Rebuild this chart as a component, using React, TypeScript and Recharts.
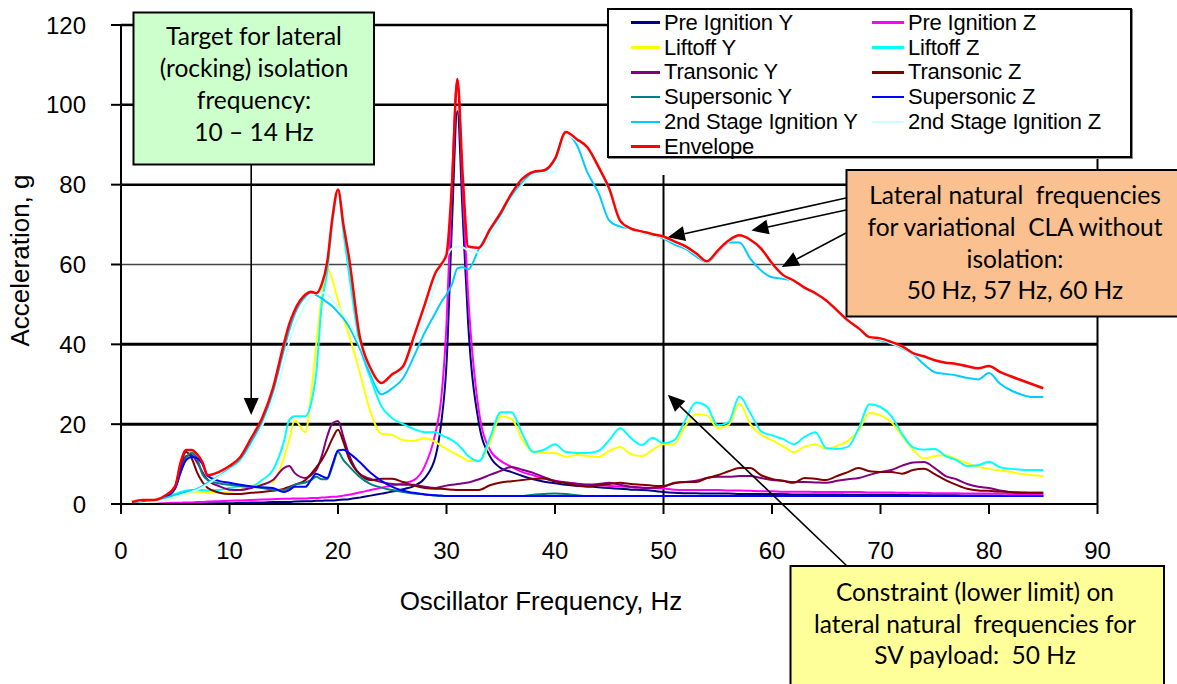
import React from 'react';
import { LineChart, Line, XAxis, YAxis, ReferenceLine } from 'recharts';

const WIDTH = 1177;
const HEIGHT = 684;
const PLOT = { left: 121, right: 1097.5, top: 25, bottom: 504 };
const X_AXIS_HEIGHT = 120;
const ARIAL = '"Liberation Sans", Arial, sans-serif';
const BOX_FONT = 'Lato, "Open Sans", sans-serif';

// oscillator frequency, Hz
const FREQ = [
  1, 2, 3, 4, 5, 5.5, 6, 6.5, 7, 7.5,
  8, 9, 10, 11, 12, 13, 14, 15, 15.5, 16,
  17, 17.5, 18, 18.5, 19, 19.5, 20, 20.5, 21, 22,
  23, 24, 25, 26, 27, 28, 29, 29.5, 30, 30.5,
  31, 31.5, 32, 33, 34, 35, 36, 37, 38, 39,
  40, 41, 42, 43, 44, 45, 46, 47, 48, 49,
  50, 51, 52, 53, 54, 55, 56, 57, 58, 59,
  60, 61, 62, 63, 64, 65, 66, 67, 68, 69,
  70, 71, 72, 73, 74, 75, 76, 77, 78, 79,
  80, 81, 82, 83, 84, 85,
];

// acceleration, g
const PRE_IGNITION_Y = [
  0, 0, 0, 0, 0.1, 0.1, 0.1, 0.1, 0.1, 0.1,
  0.2, 0.2, 0.2, 0.3, 0.4, 0.4, 0.5, 0.5, 0.5, 0.6,
  0.7, 0.7, 0.8, 0.8, 0.9, 0.9, 1, 1.1, 1.2, 1.6,
  2.1, 2.6, 3.1, 3.7, 4.5, 6.5, 12, 20, 35, 70,
  98.4, 72, 45, 20, 12, 9, 8, 7, 6.2, 5.6,
  5.2, 4.8, 4.6, 4.4, 4.2, 4, 3.8, 3.6, 3.5, 3.3,
  3, 2.8, 2.7, 2.7, 2.6, 2.6, 2.6, 2.5, 2.5, 2.5,
  2.5, 2.5, 2.4, 2.4, 2.4, 2.4, 2.4, 2.3, 2.3, 2.3,
  2.3, 2.3, 2.3, 2.2, 2.2, 2.2, 2.2, 2.2, 2.1, 2.1,
  2.1, 2.1, 2, 2, 2, 2,
];
const PRE_IGNITION_Z = [
  0, 0, 0.1, 0.2, 0.3, 0.3, 0.4, 0.4, 0.5, 0.5,
  0.6, 0.7, 0.8, 0.9, 1, 1.1, 1.2, 1.3, 1.3, 1.4,
  1.4, 1.5, 1.5, 1.6, 1.7, 1.8, 1.9, 2.1, 2.3, 2.9,
  3.5, 4.1, 4.6, 5.2, 6, 9.5, 18, 26, 45, 80,
  106.3, 78, 52, 23, 13.6, 10.8, 9.3, 8, 7.2, 6.4,
  5.8, 5.4, 5.1, 4.9, 4.7, 4.5, 4.4, 4.2, 4.1, 4,
  3.9, 3.6, 3.5, 3.5, 3.5, 3.5, 3.4, 3.4, 3.3, 3.2,
  3.2, 3.1, 3.1, 3.1, 3, 3, 3, 3, 3, 2.9,
  2.9, 2.9, 2.8, 2.8, 2.8, 2.7, 2.7, 2.7, 2.6, 2.6,
  2.6, 2.6, 2.5, 2.5, 2.5, 2.5,
];
const LIFTOFF_Y = [
  0, 0.2, 0.5, 1, 1.8, 2.2, 2.5, 2.8, 3, 3,
  2.8, 2.8, 3, 3.5, 4.5, 5, 5.5, 11.5, 16, 21,
  18, 27, 40, 52, 59, 56, 51, 46.5, 42.5, 33,
  23, 17.6, 17.3, 16, 15.8, 16.5, 15.5, 14.6, 13.8, 13,
  12.3, 11.6, 10.8, 10.8, 15.5, 22, 21.3, 16, 13, 12.8,
  12.8, 11.8, 12.3, 12, 11.8, 13.3, 14.3, 12.5, 12, 13.6,
  15, 15, 19.5, 22.5, 22.2, 19, 19.8, 25.2, 20, 17.3,
  16, 14.5, 13, 14.3, 15, 13.8, 14.6, 15.8, 18.5, 22.8,
  22.2, 20.5, 17, 13.6, 11.4, 12, 12.2, 11.2, 10.2, 9.3,
  8.8, 8.4, 8, 7.5, 7.2, 7,
];
const LIFTOFF_Z = [
  0, 0.2, 0.8, 1.5, 2.5, 3, 3.4, 3.5, 3.5, 3.5,
  3.4, 3.5, 4, 4.4, 4.4, 6, 8.5, 15.5, 21, 22,
  22, 25, 33, 50, 58, 71, 78.5, 68, 58, 40,
  31.5, 24.5, 21.5, 20, 18.8, 18, 18, 17.3, 16.7, 16,
  15, 13.6, 12, 10.8, 16.5, 23, 23, 17.5, 13, 13.6,
  15, 13, 12.8, 12.8, 13.3, 16, 19, 16.5, 14.8, 16.6,
  15.2, 16, 21, 25.4, 24.4, 19.7, 20.5, 26.9, 22.8, 18.2,
  17.2, 16.3, 15, 16.8, 18, 14, 13.8, 14.3, 19, 25,
  24.3, 22, 17.5, 14.2, 13.6, 13.8, 12, 11, 9.5, 9.7,
  10.6, 9.2, 8.8, 8.6, 8.5, 8.5,
];
const TRANSONIC_Y = [
  0, 0.3, 0.8, 1.5, 4, 9, 12, 12.3, 10.5, 8,
  6, 4.5, 3.6, 3.5, 4, 4.8, 6, 9, 9.5, 7.8,
  6.5, 7.2, 8.5, 12, 16.9, 20.2, 20.8, 16.8, 12.5, 7.5,
  6.3, 5.5, 5, 4.8, 4.8, 4.3, 4, 4.3, 4.6, 4.8,
  5, 5.2, 5.4, 6.2, 7.3, 8.3, 9.3, 8.6, 7.8, 6.7,
  5.8, 5.4, 5.1, 4.8, 5, 5.3, 4.8, 4.3, 4.1, 4,
  4.3, 5.3, 5.5, 5.8, 6.5, 6.8, 6.8, 7, 7, 6.5,
  6, 5.8, 5.5, 5.5, 5.4, 5.3, 5.8, 6.2, 6.5, 7.3,
  8, 8.5, 9.6, 10.4, 10.5, 9, 7, 6.2, 5, 4.3,
  4, 3.4, 3, 2.9, 2.8, 2.8,
];
const TRANSONIC_Z = [
  0, 0.3, 0.8, 1.5, 4.5, 10, 13, 11.5, 8, 5.5,
  4, 2.9, 2.5, 2.5, 2.8, 3, 3.3, 3.8, 4.3, 4.8,
  6, 7.5, 9.2, 11, 13.5, 16.5, 18.6, 15.5, 11.5, 7.5,
  6, 6.3, 6.3, 5.5, 4.6, 4, 3.8, 3.8, 3.7, 3.6,
  3.5, 3.5, 3.5, 3.5, 4.7, 5.4, 5.7, 6, 6.3, 6.4,
  5.6, 5.2, 4.6, 4.4, 4.7, 5, 5.3, 5, 4.8, 4.6,
  4.5, 5.2, 5.5, 5.5, 6.5, 7.2, 8.2, 9, 9, 7.2,
  6.3, 5.8, 5.3, 6.5, 6.3, 6, 7, 8, 9, 8.2,
  8, 8, 7.6, 8.5, 8.8, 7.5, 6, 4.8, 3.8, 3.4,
  3.3, 3.1, 3, 2.8, 2.8, 2.8,
];
const SUPERSONIC_Y = [
  0, 0.3, 0.8, 1.5, 4, 8, 11.5, 12.8, 11.5, 7.5,
  6, 5.2, 4.8, 4.5, 4.3, 4, 3.6, 3.5, 4, 4.8,
  5.4, 6, 6.8, 6.2, 6.2, 9.5, 13, 11, 9.5, 6.8,
  5, 4.1, 3.5, 3, 2.6, 2.4, 2.1, 2, 2, 2,
  2, 2, 2, 2, 2, 2, 2, 2, 2.3, 2.5,
  2.6, 2.5, 2.2, 2, 2, 2, 2, 2, 2, 2,
  2, 2, 2, 2, 2, 2, 2, 2, 2, 2,
  2, 2, 2, 2, 2, 2, 2, 2, 2, 2,
  2, 2, 2, 2, 2, 2, 2, 2, 2, 2,
  2, 2, 2, 2, 2, 2,
];
const SUPERSONIC_Z = [
  0, 0.3, 0.8, 1.5, 4, 8, 11, 11.8, 11.5, 10,
  7, 5.8, 5.3, 4.8, 4.4, 4.2, 4, 3, 3.5, 4.3,
  4.3, 6, 7.6, 7, 6.5, 10, 13.4, 13.6, 12.8, 10.5,
  7.8, 5.8, 4.3, 3.3, 2.8, 2.4, 2.2, 2.1, 2, 2,
  2, 2, 2, 2, 2, 2, 2, 2, 2, 2,
  2, 2, 2, 2, 2, 2, 2, 2, 2, 2,
  2, 2, 2, 2, 2, 2, 2, 2, 2, 2,
  2, 2, 2, 2, 2, 2, 2, 2, 2, 2,
  2, 2, 2, 2, 2, 2, 2, 2, 2, 2,
  2, 2, 2, 2, 2, 2,
];
const STAGE2_Y = [
  0, 0.3, 0.8, 1.5, 2.2, 2.6, 3, 3.3, 3.8, 4.5,
  5.3, 7, 8.8, 11, 15.5, 20.5, 28, 38.5, 43.5, 47.5,
  52, 53, 52.3, 51.5, 50.5, 49.5, 48, 46.5, 44.5, 39,
  32.5, 27.5, 29, 31.5, 37, 43, 48, 50.5, 52.5, 55,
  59, 59.3, 58.8, 64, 68.5, 72.5, 77, 80.5, 83, 83.3,
  86.3, 92.6, 90, 83, 78, 71, 69.5, 69, 68, 67.3,
  66.5, 65, 64, 62, 60.5, 63, 65.5, 65.5, 61.5, 58.5,
  56.8, 56.4, 55.8, 54, 52.6, 50.8, 48.3, 45.8, 43.8, 41.6,
  41, 40.2, 39, 37.5, 35, 33, 32.6, 32.2, 31.6, 31.2,
  32.8, 30.2, 28.5, 27.4, 26.8, 26.8,
];
const STAGE2_Z = [
  0, 0.2, 0.5, 1, 1.8, 2.2, 2.6, 3, 3.5, 4.2,
  5, 6.8, 8.5, 10.5, 14.5, 19.5, 26, 35, 40.5, 44.5,
  50, 52, 52.8, 53, 52.5, 51, 49.5, 47.5, 45.5, 40,
  33.5, 28.5, 30.5, 33.5, 40, 47, 55, 59, 62, 64,
  64.5, 64.3, 63.5, 63, 67, 71.5, 76.5, 80, 82.5, 83,
  83.3, 92.5, 91, 88.5, 84, 78.5, 70.7, 68.7, 68, 67.3,
  66.7, 65.5, 64.3, 62.5, 60.5, 63.2, 65.7, 67, 65.9, 63.7,
  60, 57.1, 55.7, 53.9, 52.5, 50.7, 48.2, 45.7, 43.7, 41.5,
  41.2, 40.3, 39.2, 37.5, 36.7, 35.7, 35.1, 34.8, 34.2, 33.7,
  34.3, 32.8, 31.7, 30.7, 29.7, 28.7,
];
const ENVELOPE = [
  0.5, 1, 1, 2, 4.5, 10.5, 13.5, 13.5, 12.5, 10.5,
  7.2, 8, 9.5, 11.8, 16.5, 21.5, 29, 40, 45, 48.5,
  52.5, 53.2, 52.8, 55, 60.5, 72, 78.8, 70, 62, 42,
  34, 30.3, 32.5, 34.5, 42, 50, 58, 60, 62.5, 80,
  106.5, 82, 64.5, 64.2, 68.8, 73, 77.8, 81.5, 83.2, 83.6,
  86.5, 93.2, 91.4, 89.3, 84.5, 79, 71, 69, 68.3, 67.6,
  67, 65.8, 64.6, 62.8, 60.8, 63.5, 66, 67.3, 66.2, 64,
  60.3, 57.4, 56, 54.2, 52.8, 51, 48.5, 46, 44, 41.8,
  41.5, 40.6, 39.5, 37.8, 37, 36, 35.4, 35.1, 34.5, 34,
  34.6, 33.1, 32, 31, 30, 29,
];

const FREQ_TICKS = [0, 10, 20, 30, 40, 50, 60, 70, 80, 90];
const ACCEL_TICKS = [0, 20, 40, 60, 80, 100, 120];

const SERIES = [
  { key: 'preY', name: 'Pre Ignition Y', color: '#000080', values: PRE_IGNITION_Y },
  { key: 'preZ', name: 'Pre Ignition Z', color: '#FF00FF', values: PRE_IGNITION_Z },
  { key: 'liftY', name: 'Liftoff Y', color: '#FFFF00', values: LIFTOFF_Y },
  { key: 'liftZ', name: 'Liftoff Z', color: '#00FFFF', values: LIFTOFF_Z },
  { key: 'tranY', name: 'Transonic Y', color: '#800080', values: TRANSONIC_Y },
  { key: 'tranZ', name: 'Transonic Z', color: '#800000', values: TRANSONIC_Z },
  { key: 'supY', name: 'Supersonic Y', color: '#008080', values: SUPERSONIC_Y },
  { key: 'supZ', name: 'Supersonic Z', color: '#0000FF', values: SUPERSONIC_Z },
  { key: 'st2Y', name: '2nd Stage Ignition Y', color: '#00CCFF', values: STAGE2_Y },
  { key: 'st2Z', name: '2nd Stage Ignition Z', color: '#CCFFFF', values: STAGE2_Z },
  { key: 'env', name: 'Envelope', color: '#FF0000', values: ENVELOPE },
];

const rows = FREQ.map((f, i) => {
  const row: Record<string, number> = { f };
  SERIES.forEach((s) => {
    row[s.key] = s.values[i];
  });
  return row;
});

// gridline weights as drawn in the original
const GRID_STYLE: Record<number, { stroke: string; width: number }> = {
  20: { stroke: '#000', width: 3 },
  40: { stroke: '#000', width: 3 },
  60: { stroke: '#444', width: 1.5 },
  80: { stroke: '#000', width: 2.5 },
  100: { stroke: '#000', width: 2.5 },
  120: { stroke: '#000', width: 2.5 },
};

const toX = (f: number) => PLOT.left + (f / 90) * (PLOT.right - PLOT.left);
const toY = (g: number) => PLOT.bottom - (g / 120) * (PLOT.bottom - PLOT.top);

function Arrow({ x1, y1, x2, y2 }: { x1: number; y1: number; x2: number; y2: number }) {
  const len = Math.hypot(x2 - x1, y2 - y1);
  const ux = (x2 - x1) / len;
  const uy = (y2 - y1) / len;
  const head = 17;
  const half = 7.5;
  const bx = x2 - ux * head;
  const by = y2 - uy * head;
  return (
    <g>
      <line x1={x1} y1={y1} x2={bx} y2={by} stroke="#000" strokeWidth={1.6} />
      <polygon
        points={`${x2},${y2} ${bx - uy * half},${by + ux * half} ${bx + uy * half},${by - ux * half}`}
        fill="#000"
      />
    </g>
  );
}

function NoteBox({
  x, y, w, h, fill, cx, baseline, gap, lines,
}: {
  x: number; y: number; w: number; h: number; fill: string;
  cx: number; baseline: number; gap: number; lines: string[];
}) {
  return (
    <g>
      <rect x={x} y={y} width={w} height={h} fill={fill} stroke="#000" strokeWidth={2} />
      {lines.map((t, i) => (
        <text
          key={i}
          x={cx}
          y={baseline + i * gap}
          textAnchor="middle"
          fontFamily={BOX_FONT}
          fontSize={24.5}
          fill="#000"
          style={{ whiteSpace: 'pre' }}
        >
          {t}
        </text>
      ))}
    </g>
  );
}

function Annotations() {
  const claTips = [
    { f: 50.4, g: 66.8, sy: 198 },
    { f: 58.1, g: 68.5, sy: 210 },
    { f: 60.9, g: 59.4, sy: 233 },
  ];
  return (
    <svg
      width={WIDTH}
      height={HEIGHT}
      style={{ position: 'absolute', left: 0, top: 0, pointerEvents: 'none' }}
    >
      <NoteBox
        x={133.5} y={12.5} w={240.5} h={152} fill="#CCFFCC"
        cx={254} baseline={45} gap={32}
        lines={['Target for lateral', '(rocking) isolation', 'frequency:', '10 \u2013 14 Hz']}
      />
      <Arrow x1={toX(12)} y1={164.5} x2={toX(12)} y2={toY(22.3)} />

      <NoteBox
        x={846.5} y={170} w={340} h={146.5} fill="#FAC090"
        cx={1015} baseline={204} gap={31.8}
        lines={['Lateral natural  frequencies', 'for variational  CLA without', 'isolation:', '50 Hz, 57 Hz, 60 Hz']}
      />
      {claTips.map((t, i) => (
        <Arrow key={i} x1={846} y1={t.sy} x2={toX(t.f)} y2={toY(t.g)} />
      ))}

      <NoteBox
        x={790.5} y={566} w={373.5} h={130} fill="#FFFF99"
        cx={975} baseline={601} gap={31.7}
        lines={['Constraint (lower limit) on', 'lateral natural  frequencies for', 'SV payload:  50 Hz']}
      />
      <Arrow x1={847} y1={566} x2={toX(50.4)} y2={toY(27.4)} />
    </svg>
  );
}

function LegendBox() {
  return (
    <div
      style={{
        position: 'absolute',
        left: 607,
        top: 8,
        width: 525,
        height: 150,
        boxSizing: 'border-box',
        border: '2px solid #000',
        boxShadow: '1px 1px 0 #888',
        background: '#fff',
      }}
    >
      {SERIES.map((s, i) => {
        const col = i % 2;
        const row = Math.floor(i / 2);
        return (
          <div
            key={s.key}
            style={{
              position: 'absolute',
              left: col === 0 ? 22 : 263,
              top: 0.7 + row * 24.8,
              height: 24,
              display: 'flex',
              alignItems: 'center',
              whiteSpace: 'nowrap',
              fontFamily: ARIAL,
              fontSize: 22,
              letterSpacing: -0.2,
              color: '#000',
            }}
          >
            <span
              style={{
                display: 'inline-block',
                width: col === 0 ? 29 : 32,
                height: 2.5,
                background: s.color,
                marginRight: 4,
              }}
            />
            {s.name}
          </div>
        );
      })}
    </div>
  );
}

export default function App() {
  return (
    <div
      style={{
        position: 'absolute',
        left: 0,
        top: 0,
        width: WIDTH,
        height: HEIGHT,
        background: '#fff',
        overflow: 'hidden',
      }}
    >
      <LineChart
        width={WIDTH}
        height={HEIGHT}
        data={rows}
        margin={{
          top: PLOT.top,
          right: WIDTH - PLOT.right,
          left: 0,
          bottom: HEIGHT - PLOT.bottom - X_AXIS_HEIGHT,
        }}
      >
        <XAxis
          dataKey="f"
          type="number"
          domain={[0, 90]}
          ticks={FREQ_TICKS}
          height={X_AXIS_HEIGHT}
          tickSize={10}
          tickMargin={28}
          axisLine={{ stroke: '#000', strokeWidth: 2 }}
          tickLine={{ stroke: '#000', strokeWidth: 2 }}
          tick={{ fill: '#000', fontSize: 24, fontFamily: ARIAL }}
          label={{
            content: () => (
              <text
                x={PLOT.left + 420}
                y={PLOT.bottom + 106}
                textAnchor="middle"
                fontFamily={ARIAL}
                fontSize={26}
                fill="#000"
              >
                Oscillator Frequency, Hz
              </text>
            ),
          }}
        />
        <YAxis
          type="number"
          domain={[0, 120]}
          ticks={ACCEL_TICKS}
          width={PLOT.left}
          tickSize={10}
          tickMargin={25}
          axisLine={{ stroke: '#000', strokeWidth: 2 }}
          tickLine={{ stroke: '#000', strokeWidth: 2 }}
          tick={{ fill: '#000', fontSize: 24, fontFamily: ARIAL }}
          label={{
            content: () => {
              const cy = (PLOT.top + PLOT.bottom) / 2 - 4;
              return (
                <text
                  x={29}
                  y={cy}
                  transform={`rotate(-90, 29, ${cy})`}
                  textAnchor="middle"
                  fontFamily={ARIAL}
                  fontSize={26}
                  fill="#000"
                >
                  Acceleration, g
                </text>
              );
            },
          }}
        />
        {ACCEL_TICKS.filter((v) => v > 0).map((v) => (
          <ReferenceLine
            key={v}
            y={v}
            stroke={GRID_STYLE[v].stroke}
            strokeWidth={GRID_STYLE[v].width}
          />
        ))}
        <ReferenceLine x={90} stroke="#000" strokeWidth={2} />
        <ReferenceLine
          segment={[{ x: 50, y: 82.4 }, { x: 50, y: 0 }]}
          stroke="#000"
          strokeWidth={2}
        />
        {SERIES.map((s) => (
          <Line
            key={s.key}
            dataKey={s.key}
            name={s.name}
            type="monotone"
            stroke={s.color}
            strokeWidth={s.key === 'env' ? 2.5 : 2}
            dot={false}
            activeDot={false}
            isAnimationActive={false}
          />
        ))}
      </LineChart>
      <Annotations />
      <LegendBox />
    </div>
  );
}
